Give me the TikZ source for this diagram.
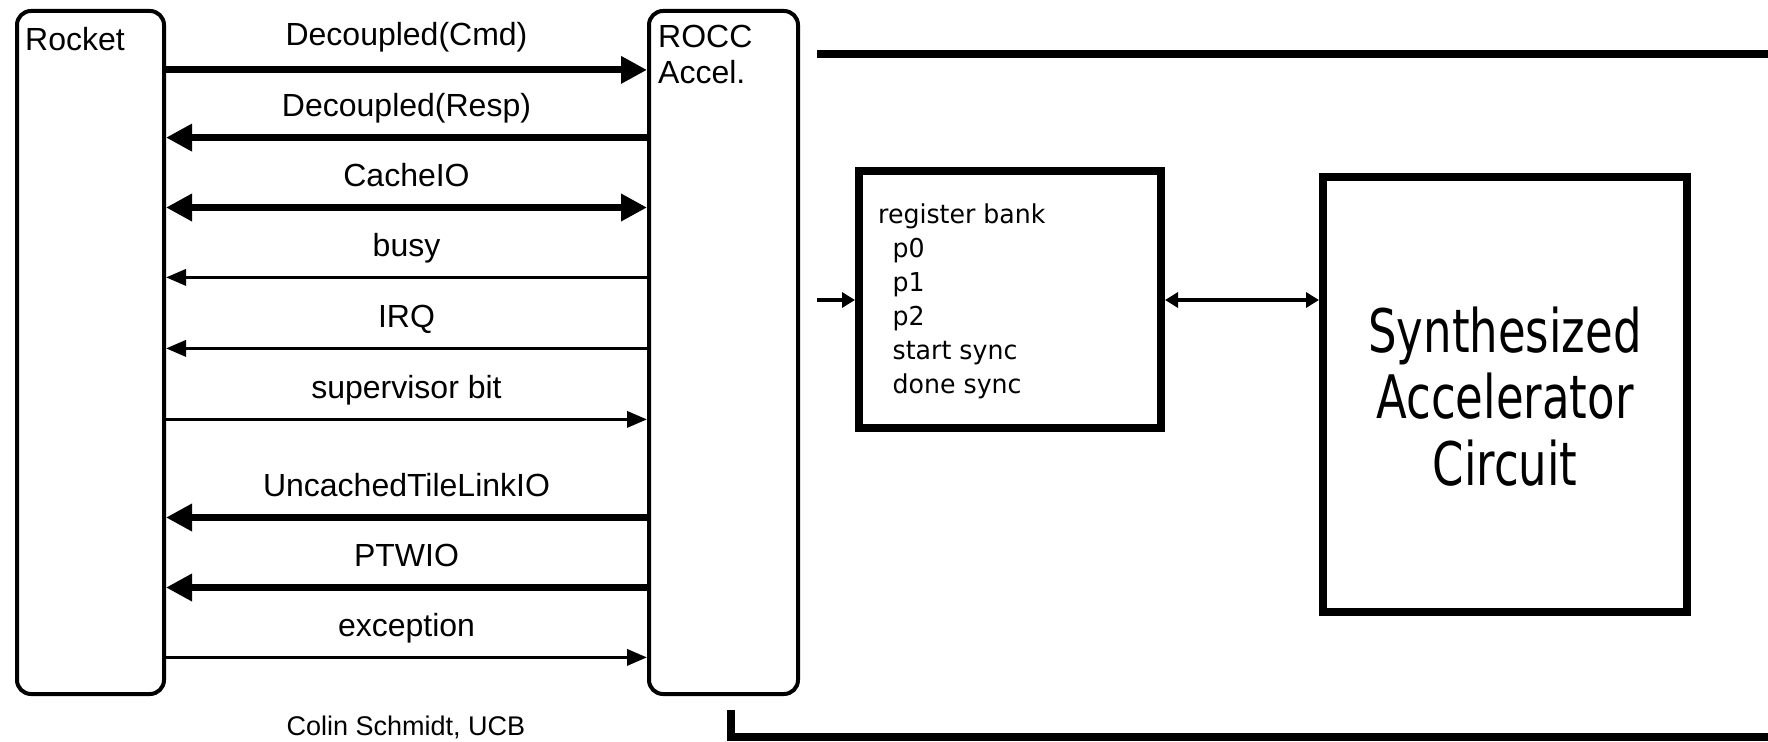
\documentclass[tikz,border=0pt]{standalone}
\usepackage{fontspec}
\setmainfont{Liberation Sans}
\newfontfamily\regfont[FakeStretch=0.97]{DejaVu Sans}
\newfontfamily\synfont[FakeStretch=0.75]{DejaVu Sans}
\usetikzlibrary{arrows.meta}
\tikzset{
  rbox/.style={draw, line width=4pt, rounded corners=14pt, outer sep=0pt, inner sep=0pt},
  sbox/.style={draw, line width=8pt, outer sep=0pt, inner sep=0pt},
  lbl/.style={font=\fontsize{32}{38}\selectfont, inner sep=0pt},
  sig/.style={midway, anchor=base, yshift=21pt, lbl},
  fat/.style={line width=7pt, -{Triangle[length=26pt,width=26pt]}, shorten >=2pt, shorten <=2pt},
  fatboth/.style={line width=7pt, {Triangle[length=26pt,width=26pt]}-{Triangle[length=26pt,width=26pt]}, shorten >=2pt, shorten <=2pt},
  slim/.style={line width=3.5pt, -{Triangle[length=20pt,width=16pt]}, shorten >=2pt, shorten <=2pt},
  small/.style={line width=4pt, -{Triangle[length=13pt,width=15pt]}, shorten >=4pt},
  smallboth/.style={line width=4pt, {Triangle[length=13pt,width=15pt]}-{Triangle[length=13pt,width=15pt]}, shorten >=4pt, shorten <=4pt},
  bus/.style={line width=8pt},
}
\begin{document}
\begin{tikzpicture}[x=1pt,y=-1pt]
\useasboundingbox (0,0) rectangle (1768,741);
\fill[white] (0,0) rectangle (1768,741);

% left boxes
\node[rbox, minimum width=147pt, minimum height=683pt] (rocket) at (90.5,352.5) {};
\node[rbox, minimum width=149pt, minimum height=683pt] (rocc) at (723.5,352.5) {};
\node[lbl, anchor=base west] (rockettxt) at (25,51) {Rocket};
\node[lbl, anchor=base west] (rocctxt) at (658,48) {ROCC};
\node[lbl, anchor=base west] (acceltxt) at (658,84) {Accel.};

% signals
\draw[fat] (rocket.east |- 0,69.9) -- (rocc.west |- 0,69.9) node[sig, yshift=3pt] (l1) {Decoupled(Cmd)};
\draw[fat] (rocc.west |- 0,137.6) -- (rocket.east |- 0,137.6) node[sig] (l2) {Decoupled(Resp)};
\draw[fatboth] (rocket.east |- 0,207.5) -- (rocc.west |- 0,207.5) node[sig] (l3) {CacheIO};
\draw[slim] (rocc.west |- 0,277.4) -- (rocket.east |- 0,277.4) node[sig] (l4) {busy};
\draw[slim] (rocc.west |- 0,348.4) -- (rocket.east |- 0,348.4) node[sig] (l5) {IRQ};
\draw[slim] (rocket.east |- 0,419.4) -- (rocc.west |- 0,419.4) node[sig] (l6) {supervisor bit};
\draw[fat] (rocc.west |- 0,517.5) -- (rocket.east |- 0,517.5) node[sig] (l7) {UncachedTileLinkIO};
\draw[fat] (rocc.west |- 0,587.5) -- (rocket.east |- 0,587.5) node[sig] (l8) {PTWIO};
\draw[slim] (rocket.east |- 0,657.4) -- (rocc.west |- 0,657.4) node[sig] (l9) {exception};

\node[font=\fontsize{27}{31}\selectfont, inner sep=0pt, anchor=base] (credit) at (406,735) {Colin Schmidt, UCB};

% right side
\draw[bus] (817,54) -- (1768,54);
\draw[bus] (731,710) -- (731,737) -- (1768,737);

\node[sbox, minimum width=302pt, minimum height=257pt] (regbank) at (1010,299.5) {};
\node[sbox, minimum width=364pt, minimum height=435pt] (synth) at (1505,394) {};

\node[inner sep=0pt, anchor=base west] (regtxt) at (878,223)
  {\regfont\fontsize{26}{34}\selectfont\begin{tabular}[t]{@{}l@{}}
   register bank\\
   \hspace*{14.5pt}p0\\
   \hspace*{14.5pt}p1\\
   \hspace*{14.5pt}p2\\
   \hspace*{14.5pt}start sync\\
   \hspace*{14.5pt}done sync
   \end{tabular}};
\node[inner sep=0pt, anchor=base] (syntxt) at (1505,352)
  {\synfont\fontsize{60}{66.5}\selectfont\begin{tabular}[t]{@{}c@{}}
   Synthesized\\ Accelerator\\ Circuit
   \end{tabular}};

\coordinate (busin) at (817,300);
\draw[small] (busin) -- (regbank.west |- busin);
\draw[smallboth] (regbank.east |- busin) -- (synth.west |- busin);
\end{tikzpicture}
\end{document}
